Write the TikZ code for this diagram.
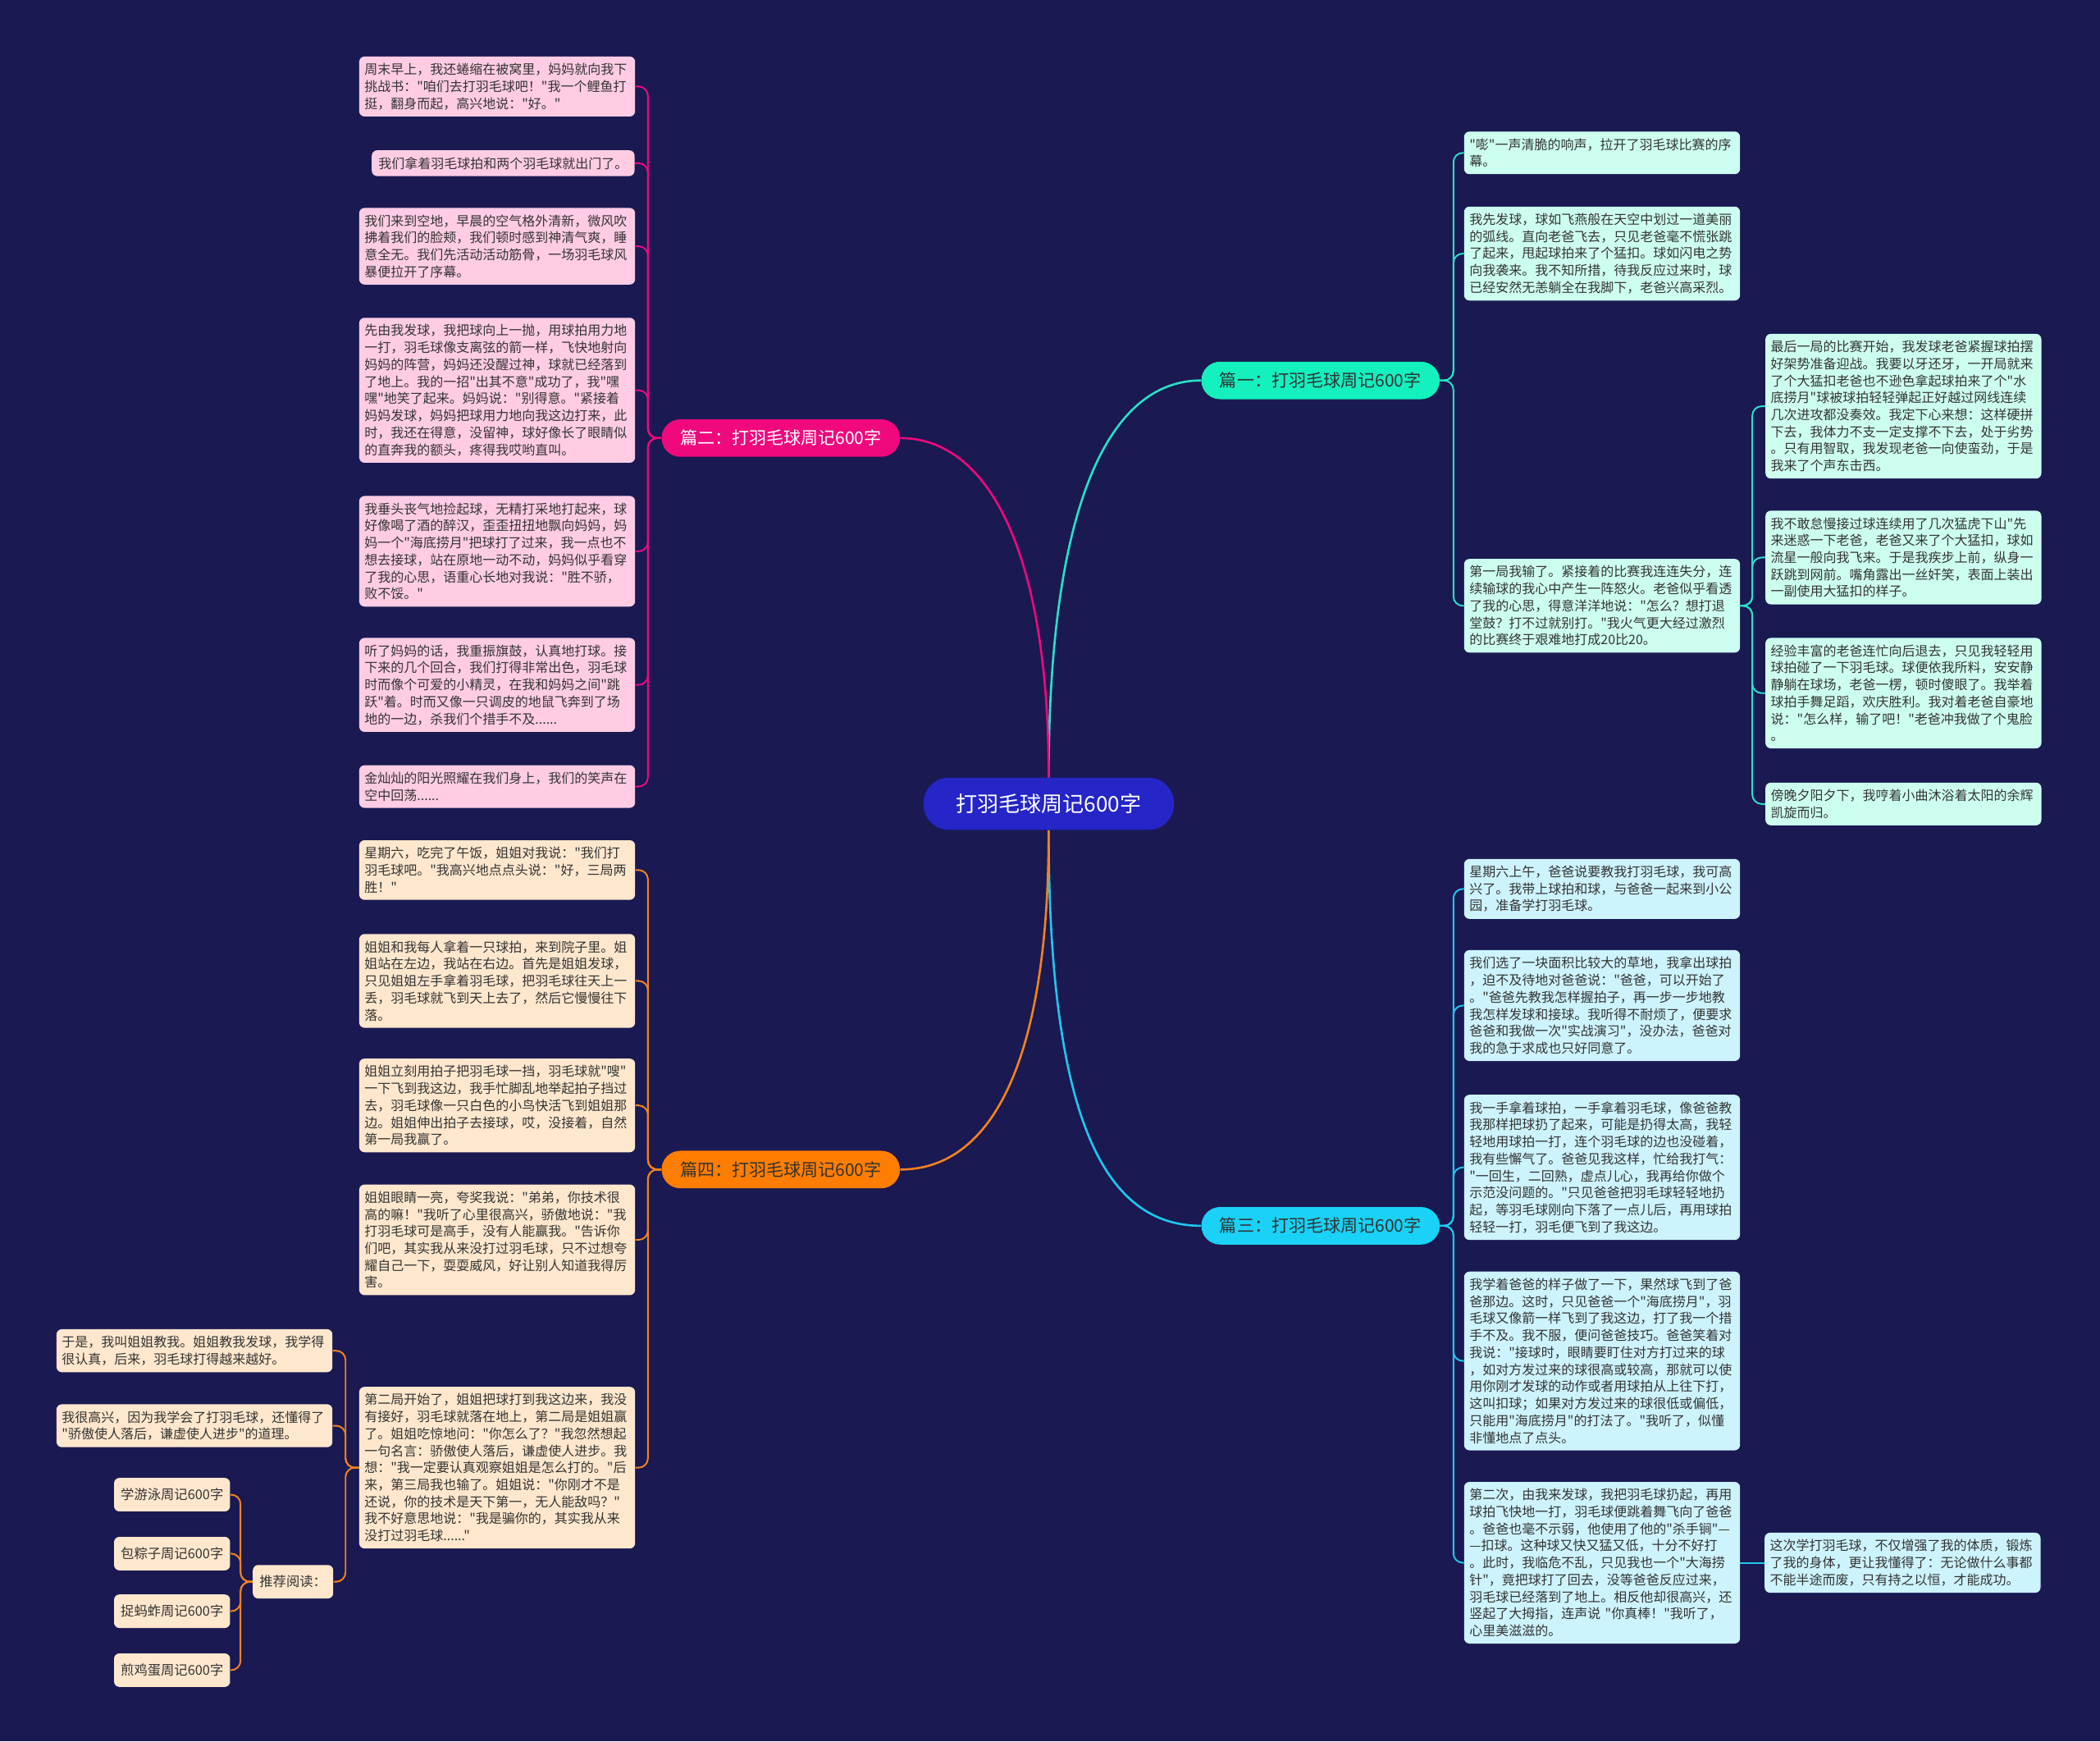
\documentclass[tikz,border=0pt]{standalone}
\usepackage{fontspec}
\newfontfamily\cjk{Noto Sans CJK SC}
\definecolor{fond}{RGB}{26,25,82}
\definecolor{txt}{RGB}{51,51,51}
\definecolor{racine}{RGB}{37,37,200}
\definecolor{vert}{RGB}{20,240,190}
\definecolor{vertl}{RGB}{40,225,200}
\definecolor{rose}{RGB}{240,8,125}
\definecolor{ciel}{RGB}{25,210,245}
\definecolor{cielL}{RGB}{30,200,240}
\definecolor{ocre}{RGB}{255,125,0}
\definecolor{ocreL}{RGB}{245,130,30}
\definecolor{rosebox}{RGB}{255,204,228}
\definecolor{ocrebox}{RGB}{255,231,205}
\definecolor{vertbox}{RGB}{205,255,240}
\definecolor{cielbox}{RGB}{205,243,253}

\begin{document}
\begin{tikzpicture}[x=1pt,y=-1pt,
  feuille/.style={fill=#1,rounded corners=4pt,inner xsep=4pt,inner ysep=5pt,text width=198pt,align=left,anchor=north west,text=txt,font=\cjk\fontsize{9.8}{12.7}\selectfont},
  petit/.style={fill=ocrebox,rounded corners=4pt,inner xsep=5pt,minimum height=25pt,text=txt,font=\cjk\fontsize{10}{12}\selectfont},
  branche/.style={fill=#1,rounded corners=14pt,minimum width=178pt,minimum height=28pt,text=txt,font=\cjk\fontsize{12.9}{14}\selectfont},
  lien/.style={draw=#1,line width=1.6pt},
  fil/.style={draw=#1,line width=1.2pt,rounded corners=7pt}]
\fill[fond] (0,0) rectangle (1568,1300);

% centre
\node[fill=racine,text=white,rounded corners=19pt,minimum width=187pt,minimum height=39pt,font=\cjk\fontsize{16}{18}\selectfont] (root) at (783,600) {打羽毛球周记600字};

\node[branche=vert] (b1) at (986,284) {篇一：打羽毛球周记600字};
\node[branche=rose,text=white] (b2) at (583,327) {篇二：打羽毛球周记600字};
\node[branche=ciel] (b3) at (986,915) {篇三：打羽毛球周记600字};
\node[branche=ocre] (b4) at (583,873) {篇四：打羽毛球周记600字};

\draw[lien=vertl] (root.north) .. controls +(0,-200) and +(-70,0) .. (b1.west);
\draw[lien=rose] (root.north) .. controls +(0,-170) and +(65,0) .. (b2.east);
\draw[lien=cielL] (root.south) .. controls +(0,220) and +(-70,0) .. (b3.west);
\draw[lien=ocreL] (root.south) .. controls +(0,180) and +(65,0) .. (b4.east);

% pian er
\node[feuille=rosebox] (p1) at (268,42) {周末早上，我还蜷缩在被窝里，妈妈就向我下\\挑战书："咱们去打羽毛球吧！"我一个鲤鱼打\\挺，翻身而起，高兴地说："好。"};
\node[feuille=rosebox,text width=,anchor=north east,inner xsep=5pt] (p2) at (474,112) {我们拿着羽毛球拍和两个羽毛球就出门了。};
\node[feuille=rosebox] (p3) at (268,155) {我们来到空地，早晨的空气格外清新，微风吹\\拂着我们的脸颊，我们顿时感到神清气爽，睡\\意全无。我们先活动活动筋骨，一场羽毛球风\\暴便拉开了序幕。};
\node[feuille=rosebox] (p4) at (268,237) {先由我发球，我把球向上一抛，用球拍用力地\\一打，羽毛球像支离弦的箭一样，飞快地射向\\妈妈的阵营，妈妈还没醒过神，球就已经落到\\了地上。我的一招"出其不意"成功了，我"嘿\\嘿"地笑了起来。妈妈说："别得意。"紧接着\\妈妈发球，妈妈把球用力地向我这边打来，此\\时，我还在得意，没留神，球好像长了眼睛似\\的直奔我的额头，疼得我哎哟直叫。};
\node[feuille=rosebox] (p5) at (268,370) {我垂头丧气地捡起球，无精打采地打起来，球\\好像喝了酒的醉汉，歪歪扭扭地飘向妈妈，妈\\妈一个"海底捞月"把球打了过来，我一点也不\\想去接球，站在原地一动不动，妈妈似乎看穿\\了我的心思，语重心长地对我说："胜不骄，\\败不馁。"};
\node[feuille=rosebox] (p6) at (268,476) {听了妈妈的话，我重振旗鼓，认真地打球。接\\下来的几个回合，我们打得非常出色，羽毛球\\时而像个可爱的小精灵，在我和妈妈之间"跳\\跃"着。时而又像一只调皮的地鼠飞奔到了场\\地的一边，杀我们个措手不及......};
\node[feuille=rosebox] (p7) at (268,571) {金灿灿的阳光照耀在我们身上，我们的笑声在\\空中回荡......};
\foreach \n in {p1,p2,p3,p4,p5,p6,p7} {\draw[fil=rose] (b2.west) -- ++(-10,0) |- (\n.east);}

% pian si
\node[feuille=ocrebox] (o1) at (268,627) {星期六，吃完了午饭，姐姐对我说："我们打\\羽毛球吧。"我高兴地点点头说："好，三局两\\胜！"};
\node[feuille=ocrebox] (o2) at (268,697) {姐姐和我每人拿着一只球拍，来到院子里。姐\\姐站在左边，我站在右边。首先是姐姐发球，\\只见姐姐左手拿着羽毛球，把羽毛球往天上一\\丢，羽毛球就飞到天上去了，然后它慢慢往下\\落。};
\node[feuille=ocrebox] (o3) at (268,790) {姐姐立刻用拍子把羽毛球一挡，羽毛球就"嗖"\\一下飞到我这边，我手忙脚乱地举起拍子挡过\\去，羽毛球像一只白色的小鸟快活飞到姐姐那\\边。姐姐伸出拍子去接球，哎，没接着，自然\\第一局我赢了。};
\node[feuille=ocrebox] (o4) at (268,884) {姐姐眼睛一亮，夸奖我说："弟弟，你技术很\\高的嘛！"我听了心里很高兴，骄傲地说："我\\打羽毛球可是高手，没有人能赢我。"告诉你\\们吧，其实我从来没打过羽毛球，只不过想夸\\耀自己一下，耍耍威风，好让别人知道我得厉\\害。};
\node[feuille=ocrebox] (o5) at (268,1035) {第二局开始了，姐姐把球打到我这边来，我没\\有接好，羽毛球就落在地上，第二局是姐姐赢\\了。姐姐吃惊地问："你怎么了？"我忽然想起\\一句名言：骄傲使人落后，谦虚使人进步。我\\想："我一定要认真观察姐姐是怎么打的。"后\\来，第三局我也输了。姐姐说："你刚才不是\\还说，你的技术是天下第一，无人能敌吗？"\\我不好意思地说："我是骗你的，其实我从来\\没打过羽毛球......"};
\foreach \n in {o1,o2,o3,o4,o5} {\draw[fil=ocreL] (b4.west) -- ++(-10,0) |- (\n.east);}

\node[feuille=ocrebox] (f1) at (42,992) {于是，我叫姐姐教我。姐姐教我发球，我学得\\很认真，后来，羽毛球打得越来越好。};
\node[feuille=ocrebox] (f2) at (42,1048) {我很高兴，因为我学会了打羽毛球，还懂得了\\"骄傲使人落后，谦虚使人进步"的道理。};
\node[petit,anchor=north east] (tj) at (249,1168) {推荐阅读：};
\foreach \n in {f1,f2,tj} {\draw[fil=ocreL] (o5.west) -- ++(-10,0) |- (\n.east);}

\node[petit,anchor=north east] (rd1) at (172,1103) {学游泳周记600字};
\node[petit,anchor=north east] (rd2) at (172,1147) {包粽子周记600字};
\node[petit,anchor=north east] (rd3) at (172,1190) {捉蚂蚱周记600字};
\node[petit,anchor=north east] (rd4) at (172,1234) {煎鸡蛋周记600字};
\foreach \n in {rd1,rd2,rd3,rd4} {\draw[fil=ocreL] (tj.west) -- ++(-9,0) |- (\n.east);}

% pian yi
\node[feuille=vertbox] (l1) at (1093,98) {"嘭"一声清脆的响声，拉开了羽毛球比赛的序\\幕。};
\node[feuille=vertbox] (l2) at (1093,154) {我先发球，球如飞燕般在天空中划过一道美丽\\的弧线。直向老爸飞去，只见老爸毫不慌张跳\\了起来，甩起球拍来了个猛扣。球如闪电之势\\向我袭来。我不知所措，待我反应过来时，球\\已经安然无恙躺全在我脚下，老爸兴高采烈。};
\node[feuille=vertbox] (l3) at (1093,417) {第一局我输了。紧接着的比赛我连连失分，连\\续输球的我心中产生一阵怒火。老爸似乎看透\\了我的心思，得意洋洋地说："怎么？想打退\\堂鼓？打不过就别打。"我火气更大经过激烈\\的比赛终于艰难地打成20比20。};
\foreach \n in {l1,l2,l3} {\draw[fil=vertl] (b1.east) -- ++(10,0) |- (\n.west);}

\node[feuille=vertbox] (m1) at (1318,249) {最后一局的比赛开始，我发球老爸紧握球拍摆\\好架势准备迎战。我要以牙还牙，一开局就来\\了个大猛扣老爸也不逊色拿起球拍来了个"水\\底捞月"球被球拍轻轻弹起正好越过网线连续\\几次进攻都没奏效。我定下心来想：这样硬拼\\下去，我体力不支一定支撑不下去，处于劣势\\。只有用智取，我发现老爸一向使蛮劲，于是\\我来了个声东击西。};
\node[feuille=vertbox] (m2) at (1318,381) {我不敢怠慢接过球连续用了几次猛虎下山"先\\来迷惑一下老爸，老爸又来了个大猛扣，球如\\流星一般向我飞来。于是我疾步上前，纵身一\\跃跳到网前。嘴角露出一丝奸笑，表面上装出\\一副使用大猛扣的样子。};
\node[feuille=vertbox] (m3) at (1318,476) {经验丰富的老爸连忙向后退去，只见我轻轻用\\球拍碰了一下羽毛球。球便依我所料，安安静\\静躺在球场，老爸一楞，顿时傻眼了。我举着\\球拍手舞足蹈，欢庆胜利。我对着老爸自豪地\\说："怎么样，输了吧！"老爸冲我做了个鬼脸\\。};
\node[feuille=vertbox] (m4) at (1318,584) {傍晚夕阳夕下，我哼着小曲沐浴着太阳的余辉\\凯旋而归。};
\foreach \n in {m1,m2,m3,m4} {\draw[fil=vertl] (l3.east) -- ++(9,0) |- (\n.west);}

% pian san
\node[feuille=cielbox] (c1) at (1093,641) {星期六上午，爸爸说要教我打羽毛球，我可高\\兴了。我带上球拍和球，与爸爸一起来到小公\\园，准备学打羽毛球。};
\node[feuille=cielbox] (c2) at (1093,709) {我们选了一块面积比较大的草地，我拿出球拍\\，迫不及待地对爸爸说："爸爸，可以开始了\\。"爸爸先教我怎样握拍子，再一步一步地教\\我怎样发球和接球。我听得不耐烦了，便要求\\爸爸和我做一次"实战演习"，没办法，爸爸对\\我的急于求成也只好同意了。};
\node[feuille=cielbox] (c3) at (1093,817) {我一手拿着球拍，一手拿着羽毛球，像爸爸教\\我那样把球扔了起来，可能是扔得太高，我轻\\轻地用球拍一打，连个羽毛球的边也没碰着，\\我有些懈气了。爸爸见我这样，忙给我打气：\\"一回生，二回熟，虚点儿心，我再给你做个\\示范没问题的。"只见爸爸把羽毛球轻轻地扔\\起，等羽毛球刚向下落了一点儿后，再用球拍\\轻轻一打，羽毛便飞到了我这边。};
\node[feuille=cielbox] (c4) at (1093,949) {我学着爸爸的样子做了一下，果然球飞到了爸\\爸那边。这时，只见爸爸一个"海底捞月"，羽\\毛球又像箭一样飞到了我这边，打了我一个措\\手不及。我不服，便问爸爸技巧。爸爸笑着对\\我说："接球时，眼睛要盯住对方打过来的球\\，如对方发过来的球很高或较高，那就可以使\\用你刚才发球的动作或者用球拍从上往下打，\\这叫扣球；如果对方发过来的球很低或偏低，\\只能用"海底捞月"的打法了。"我听了，似懂\\非懂地点了点头。};
\node[feuille=cielbox] (c5) at (1093,1106) {第二次，由我来发球，我把羽毛球扔起，再用\\球拍飞快地一打，羽毛球便跳着舞飞向了爸爸\\。爸爸也毫不示弱，他使用了他的"杀手锏"—\\—扣球。这种球又快又猛又低，十分不好打\\。此时，我临危不乱，只见我也一个"大海捞\\针"，竟把球打了回去，没等爸爸反应过来，\\羽毛球已经落到了地上。相反他却很高兴，还\\竖起了大拇指，连声说 "你真棒！"我听了，\\心里美滋滋的。};
\foreach \n in {c1,c2,c3,c4,c5} {\draw[fil=cielL] (b3.east) -- ++(10,0) |- (\n.west);}

\node[feuille=cielbox,anchor=west] (n1) at ([xshift=18pt]c5.east) {这次学打羽毛球，不仅增强了我的体质，锻炼\\了我的身体，更让我懂得了：无论做什么事都\\不能半途而废，只有持之以恒，才能成功。};
\draw[fil=cielL] (c5.east) -- (n1.west);
\end{tikzpicture}
\end{document}
